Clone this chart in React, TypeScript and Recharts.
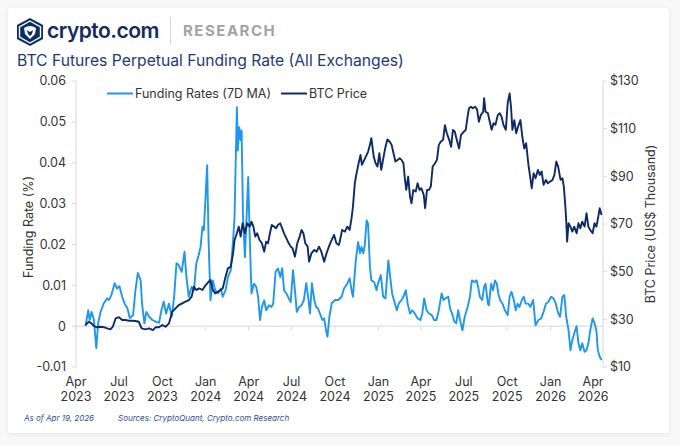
import React from 'react';
import { LineChart, Line, XAxis, YAxis, ReferenceLine } from 'recharts';

// Day offsets are counted from 2023-04-01
const START_DATE = '2023-04-01';

const quarterTickDays = [0, 91, 183, 275, 366, 457, 549, 641, 731, 822, 914, 1006, 1096];
const quarterTickMonths = ['Apr', 'Jul', 'Oct', 'Jan', 'Apr', 'Jul', 'Oct', 'Jan', 'Apr', 'Jul', 'Oct', 'Jan', 'Apr'];
const quarterTickYears = ['2023', '2023', '2023', '2024', '2024', '2024', '2024', '2025', '2025', '2025', '2025', '2026', '2026'];

const fundingTicks = [-0.01, 0, 0.01, 0.02, 0.03, 0.04, 0.05, 0.06];
const fundingTickLabels = ['-0.01', '0', '0.01', '0.02', '0.03', '0.04', '0.05', '0.06'];
const btcTicks = [10, 30, 50, 70, 90, 110, 130];
const btcTickLabels = ['$10', '$30', '$50', '$70', '$90', '$110', '$130'];

const fundingDays = [
  20, 26, 29, 33, 38, 43, 47, 52, 59, 66, 70, 75, 82, 87, 92, 98, 103, 109, 114, 121,
  126, 131, 137, 140, 145, 149, 155, 162, 169, 176, 181, 186, 191, 197, 203, 208, 213, 218, 224, 230,
  234, 239, 245, 250, 255, 259, 264, 268, 271, 278, 281, 285, 290, 295, 301, 307, 311, 317, 322, 328,
  333, 336, 341, 343, 346, 349, 351, 354, 358, 361, 365, 368, 372, 377, 382, 386, 390, 394, 399, 403,
  409, 414, 418, 423, 428, 433, 437, 441, 446, 451, 455, 460, 464, 468, 473, 478, 483, 488, 492, 496,
  500, 505, 509, 513, 517, 522, 526, 530, 533, 537, 542, 549, 556, 563, 568, 573, 580, 584, 587, 593,
  598, 602, 605, 609, 612, 616, 619, 623, 626, 632, 637, 640, 646, 651, 656, 662, 666, 670, 676, 680,
  684, 690, 694, 699, 703, 708, 713, 718, 724, 730, 734, 738, 743, 748, 754, 759, 764, 769, 775, 779,
  783, 789, 793, 797, 802, 806, 810, 814, 819, 824, 830, 835, 839, 844, 849, 853, 856, 861, 865, 868,
  873, 875, 880, 884, 888, 892, 895, 899, 904, 909, 915, 919, 923, 928, 932, 936, 940, 945, 949, 953,
  959, 963, 969, 974, 980, 986, 991, 996, 1001, 1007, 1012, 1017, 1021, 1026, 1031, 1035, 1039, 1044, 1048, 1052,
  1056, 1061, 1065, 1069, 1073, 1078, 1082, 1086, 1090, 1095, 1099, 1103, 1106, 1110, 1114,
];
const fundingRates = [
  0.0, 0.0039, 0.0015, 0.0035, 0.0015, -0.0054, 0.0007, 0.0035, 0.0056, 0.0068, 0.0064, 0.0076, 0.0105, 0.0092, 0.0098, 0.0072, 0.0055, 0.0044, 0.002, 0.0027,
  0.0088, 0.013, 0.0112, 0.0055, 0.0007, 0.0035, 0.0023, 0.0015, 0.0011, 0.0008, 0.0039, 0.006, 0.0031, 0.0055, 0.0023, 0.0072, 0.0154, 0.0149, 0.0133, 0.0182,
  0.012, 0.0072, 0.0096, 0.0088, 0.0154, 0.0169, 0.0194, 0.0243, 0.0235, 0.0394, 0.021, 0.0063, 0.0112, 0.0088, 0.008, 0.0092, 0.0072, 0.0088, 0.012, 0.0137,
  0.021, 0.0267, 0.0536, 0.043, 0.0487, 0.0455, 0.0479, 0.0267, 0.0169, 0.0251, 0.0365, 0.0227, 0.008, 0.0104, 0.0096, 0.0072, 0.0015, 0.0047, 0.0063, 0.0039,
  0.0051, 0.0047, 0.0055, 0.0133, 0.0141, 0.012, 0.0142, 0.0088, 0.008, 0.0068, 0.0059, 0.0137, 0.0088, 0.0035, 0.0047, 0.0051, 0.0064, 0.0105, 0.0072, 0.0031,
  0.0105, 0.0064, 0.0047, 0.0043, 0.0031, 0.0015, 0.0019, -0.001, -0.0026, 0.0023, 0.0056, 0.0064, 0.0064, 0.0072, 0.0092, 0.01, 0.0117, 0.0088, 0.0072, 0.0161,
  0.0206, 0.0178, 0.0194, 0.0178, 0.0198, 0.0259, 0.0251, 0.0145, 0.0112, 0.0108, 0.0088, 0.0104, 0.0125, 0.0072, 0.0068, 0.0161, 0.012, 0.008, 0.0055, 0.0039,
  0.0055, 0.0064, 0.0072, 0.0088, 0.0055, 0.0031, 0.0039, 0.0031, 0.0019, 0.0015, 0.0031, 0.0068, 0.0039, 0.0031, 0.0027, 0.0015, 0.0015, 0.0039, 0.008, 0.0064,
  0.0068, 0.0072, 0.0043, 0.0031, 0.0011, 0.0007, 0.0039, 0.0015, -0.001, 0.0023, 0.0047, 0.0072, 0.0112, 0.0108, 0.0112, 0.0092, 0.0072, 0.0064, 0.0096, 0.0104,
  0.0055, 0.0051, 0.0104, 0.0088, 0.0112, 0.0104, 0.008, 0.0064, 0.0055, 0.0039, 0.0027, 0.0072, 0.0084, 0.0064, 0.0039, 0.0055, 0.0047, 0.0064, 0.0072, 0.0055,
  0.0055, 0.0047, 0.0064, 0.0002, 0.0015, 0.0019, 0.0035, 0.0055, 0.0059, 0.0072, 0.0068, 0.0055, 0.0035, 0.0023, 0.0072, 0.0076, 0.0023, -0.001, -0.0059, -0.0034,
  -0.0018, 0.0, -0.0042, -0.0059, -0.0042, -0.0063, -0.0059, -0.0042, -0.001, 0.0019, 0.0007, -0.001, -0.0059, -0.0075, -0.0083,
];

const btcDays = [
  20, 27, 33, 38, 43, 52, 59, 66, 73, 78, 84, 91, 98, 105, 112, 119, 126, 133, 139, 147,
  155, 163, 169, 176, 183, 190, 197, 204, 211, 218, 225, 232, 239, 245, 250, 255, 261, 268, 275, 280,
  285, 290, 295, 301, 307, 311, 317, 322, 328, 333, 336, 341, 345, 349, 353, 358, 363, 368, 372, 376,
  380, 384, 389, 394, 399, 403, 407, 411, 415, 420, 424, 428, 433, 437, 441, 446, 451, 455, 459, 464,
  469, 474, 478, 482, 486, 491, 494, 499, 505, 510, 515, 520, 526, 531, 536, 542, 547, 552, 557, 559,
  564, 570, 575, 580, 584, 587, 591, 594, 599, 603, 606, 611, 616, 619, 623, 626, 631, 635, 639, 643,
  647, 652, 656, 660, 665, 669, 673, 677, 682, 686, 690, 694, 697, 700, 704, 708, 711, 715, 720, 724,
  728, 732, 737, 740, 744, 748, 752, 756, 761, 765, 769, 773, 778, 782, 786, 791, 795, 799, 803, 807,
  812, 816, 822, 826, 830, 833, 837, 841, 846, 850, 854, 858, 863, 865, 868, 873, 877, 881, 885, 889,
  894, 898, 902, 906, 911, 915, 919, 922, 925, 929, 933, 937, 942, 946, 950, 954, 959, 963, 966, 970,
  974, 979, 983, 987, 991, 996, 1000, 1005, 1010, 1014, 1018, 1022, 1027, 1031, 1034, 1037, 1039, 1041, 1044, 1048,
  1052, 1056, 1061, 1065, 1069, 1073, 1078, 1082, 1086, 1090, 1095, 1099, 1103, 1107, 1110, 1114,
];
const btcPrices = [
  27.6, 29.0, 28.3, 27.2, 26.7, 26.9, 26.7, 26.2, 25.8, 26.9, 30.4, 30.9, 29.7, 29.7, 29.4, 29.4, 29.3, 29.0, 26.2, 25.8,
  26.2, 25.5, 26.7, 26.7, 27.6, 26.9, 28.3, 33.2, 34.6, 36.0, 36.7, 37.4, 38.1, 39.5, 43.7, 42.3, 43.0, 42.3, 44.4, 45.5,
  46.5, 42.3, 40.9, 41.6, 42.3, 43.0, 47.9, 51.4, 52.1, 57.7, 63.3, 66.1, 68.9, 64.7, 70.3, 66.1, 70.3, 68.9, 71.0, 68.9,
  64.7, 66.1, 63.3, 61.9, 58.4, 62.6, 61.9, 66.1, 69.6, 68.9, 68.2, 69.6, 70.3, 68.2, 66.1, 64.0, 61.9, 60.5, 59.8, 56.3,
  61.9, 64.7, 67.5, 66.1, 61.9, 60.5, 54.2, 57.7, 59.1, 58.4, 60.5, 58.4, 54.2, 57.7, 60.5, 63.3, 65.4, 61.9, 61.2, 62.6,
  67.5, 66.8, 68.9, 67.5, 72.4, 77.3, 87.1, 90.6, 95.5, 99.0, 94.8, 96.9, 99.0, 100.3, 103.2, 106.0, 98.3, 95.5, 94.1, 99.7,
  92.7, 98.3, 102.4, 105.5, 104.5, 103.2, 99.7, 96.2, 96.9, 97.6, 96.9, 95.5, 89.2, 84.3, 89.9, 81.5, 78.7, 84.3, 83.6, 87.1,
  84.3, 85.0, 82.2, 76.6, 84.3, 84.3, 85.7, 94.1, 95.5, 96.9, 103.2, 104.5, 105.3, 111.5, 108.1, 105.3, 102.4, 109.5, 108.7, 105.3,
  101.7, 107.4, 108.7, 109.5, 115.0, 118.6, 119.2, 118.6, 119.2, 118.1, 112.9, 115.7, 117.1, 122.8, 117.1, 116.5, 112.9, 109.5, 112.3, 111.6,
  115.7, 116.5, 115.0, 111.6, 109.5, 120.7, 124.8, 119.2, 109.5, 113.6, 108.1, 110.9, 113.6, 106.6, 101.7, 103.9, 94.8, 89.2, 85.0, 91.3,
  89.2, 92.7, 90.6, 92.0, 86.4, 88.5, 87.1, 87.8, 88.5, 90.6, 96.2, 94.1, 88.5, 89.2, 85.7, 78.0, 71.7, 62.6, 70.3, 68.9,
  66.8, 68.9, 66.1, 70.3, 68.2, 71.0, 68.9, 74.5, 68.9, 67.5, 66.1, 70.3, 68.9, 73.1, 76.6, 73.8,
];

const fundingData = fundingDays.map((d, i) => ({ day: d, rate: fundingRates[i] }));
const btcData = btcDays.map((d, i) => ({ day: d, price: btcPrices[i] }));

const FONT = 'Inter, "Noto Sans", Roboto, sans-serif';
const FUNDING_COLOR = '#1f97ee';
const BTC_COLOR = '#0d2a66';
const AXIS_COLOR = '#d9d9d9';
const TEXT_COLOR = '#333333';

const XTick = (props: any) => {
  const { x, y, payload } = props;
  const idx = quarterTickDays.indexOf(payload.value);
  if (idx < 0) return null;
  return (
    <g>
      <text x={x} y={y} textAnchor="middle" fill={TEXT_COLOR} fontSize={12.5} fontFamily={FONT}>
        <tspan x={x} dy={19}>{quarterTickMonths[idx]}</tspan>
        <tspan x={x} dy={14.5}>{quarterTickYears[idx]}</tspan>
      </text>
    </g>
  );
};

const Logo = () => (
  <svg width={26} height={28} viewBox="0 0 26 28" style={{ position: 'absolute', left: 17, top: 18 }}>
    <polygon points="13,0 26,7 26,21 13,28 0,21 0,7" fill="#0b2c6b" />
    <polygon points="13,3 23.5,8.8 23.5,19.2 13,25 2.5,19.2 2.5,8.8" fill="none" stroke="#ffffff" strokeWidth={1.4} />
    <path d="M7,10 Q13,6 19,10 L18,16 L13,21 L8,16 Z" fill="#ffffff" />
    <path d="M10,12 L13,14 L16,12 L15,16 L13,18 L11,16 Z" fill="#0b2c6b" />
  </svg>
);

export default function App() {
  return (
    <div style={{ position: 'absolute', left: 0, top: 0, width: 680, height: 445, background: '#f8f8f9', overflow: 'hidden', fontFamily: FONT }}>
      <div style={{ position: 'absolute', left: 8, top: 8, width: 661, height: 425, background: '#ffffff', borderRadius: 3, boxShadow: '0 1px 5px rgba(0,0,0,0.08)' }} />
      <Logo />
      <div style={{ position: 'absolute', left: 47, top: 17, fontSize: 21, fontWeight: 600, color: '#132b60', letterSpacing: -0.5, lineHeight: '28px' }}>crypto.com</div>
      <div style={{ position: 'absolute', left: 170, top: 17, width: 1, height: 28, background: '#d8d8d8' }} />
      <div style={{ position: 'absolute', left: 183, top: 20, fontSize: 15, fontWeight: 700, color: '#a3a3a3', letterSpacing: 1.5, lineHeight: '22px' }}>RESEARCH</div>
      <div style={{ position: 'absolute', left: 17, top: 51, fontSize: 15.7, fontWeight: 400, color: '#1b3a78', lineHeight: '20px' }}>BTC Futures Perpetual Funding Rate (All Exchanges)</div>

      <div style={{ position: 'absolute', left: 0, top: 0 }}>
        <LineChart width={680} height={445} margin={{ top: 81, right: 30, bottom: 38, left: 30 }}>
          <XAxis
            dataKey="day"
            type="number"
            domain={[0, 1117]}
            ticks={quarterTickDays}
            axisLine={false}
            tickLine={false}
            tickSize={0}
            tickMargin={0}
            height={40}
            tick={<XTick />}
            allowDuplicatedCategory={false}
            interval={0}
          />
          <YAxis
            yAxisId="left"
            orientation="left"
            domain={[-0.01, 0.06]}
            ticks={fundingTicks}
            tickFormatter={(v: number) => fundingTickLabels[fundingTicks.indexOf(v)] ?? String(v)}
            width={46}
            tickSize={4}
            tickMargin={6}
            axisLine={{ stroke: AXIS_COLOR }}
            tickLine={{ stroke: AXIS_COLOR }}
            tick={{ fill: TEXT_COLOR, fontSize: 12.5, fontFamily: FONT }}
            interval={0}
            allowDataOverflow
          />
          <YAxis
            yAxisId="right"
            orientation="right"
            domain={[10, 130]}
            ticks={btcTicks}
            tickFormatter={(v: number) => btcTickLabels[btcTicks.indexOf(v)] ?? String(v)}
            width={47}
            tickSize={4}
            tickMargin={3}
            axisLine={{ stroke: AXIS_COLOR }}
            tickLine={{ stroke: AXIS_COLOR }}
            tick={{ fill: TEXT_COLOR, fontSize: 12.5, fontFamily: FONT, textAnchor: 'start' }}
            interval={0}
            allowDataOverflow
          />
          <ReferenceLine yAxisId="left" y={0} stroke={AXIS_COLOR} strokeWidth={1} />
          {quarterTickDays.map((d) => (
            <ReferenceLine
              key={'qt' + d}
              yAxisId="left"
              segment={[{ x: d, y: 0 }, { x: d, y: -0.001 }]}
              stroke={AXIS_COLOR}
              strokeWidth={1}
            />
          ))}
          <Line
            yAxisId="left"
            data={fundingData}
            dataKey="rate"
            type="linear"
            stroke={FUNDING_COLOR}
            strokeWidth={1.9}
            dot={false}
            isAnimationActive={false}
            strokeLinejoin="round"
          />
          <Line
            yAxisId="right"
            data={btcData}
            dataKey="price"
            type="linear"
            stroke={BTC_COLOR}
            strokeWidth={1.9}
            dot={false}
            isAnimationActive={false}
            strokeLinejoin="round"
          />
        </LineChart>
      </div>

      {/* Legend, axis titles and footer */}
      <svg width={680} height={445} style={{ position: 'absolute', left: 0, top: 0, pointerEvents: 'none' }}>
        <line x1={107} y1={93.5} x2={133} y2={93.5} stroke={FUNDING_COLOR} strokeWidth={2} />
        <text x={135} y={98} fontSize={12.5} fill={TEXT_COLOR} fontFamily={FONT}>Funding Rates (7D MA)</text>
        <line x1={281} y1={93.5} x2={307} y2={93.5} stroke={BTC_COLOR} strokeWidth={2} />
        <text x={309} y={98} fontSize={12.5} fill={TEXT_COLOR} fontFamily={FONT}>BTC Price</text>
        <text x={30} y={227} fontSize={12.5} fill={TEXT_COLOR} fontFamily={FONT} textAnchor="middle" dominantBaseline="middle" transform="rotate(-90 30 227)">Funding Rate (%)</text>
        <text x={652} y={224} fontSize={12.5} fill={TEXT_COLOR} fontFamily={FONT} textAnchor="middle" dominantBaseline="middle" transform="rotate(-90 652 224)">BTC Price (US$ Thousand)</text>
        <text x={24} y={421} fontSize={8} fontStyle="italic" fill="#2f4f99" fontFamily={FONT}>As of Apr 19, 2026</text>
        <text x={118} y={421} fontSize={8} fontStyle="italic" fill="#2f4f99" fontFamily={FONT}>Sources: CryptoQuant, Crypto.com Research</text>
      </svg>
    </div>
  );
}
